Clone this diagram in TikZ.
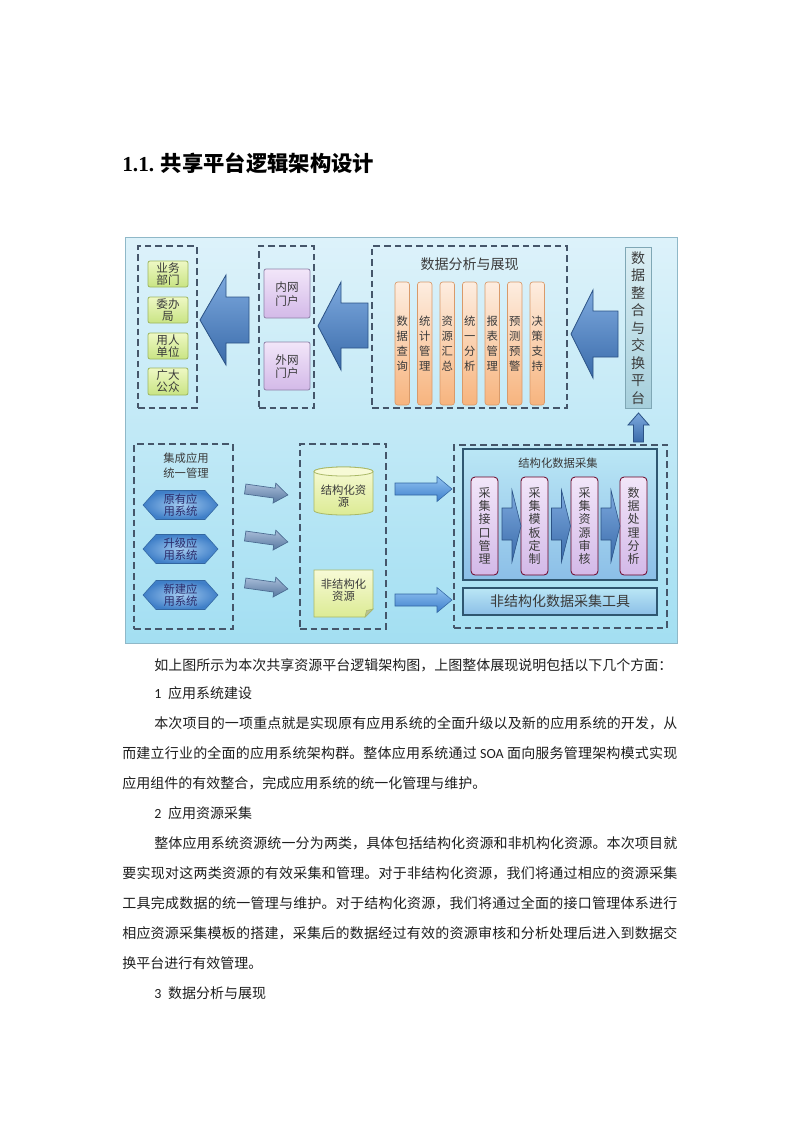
\documentclass[tikz,border=0pt]{standalone}
\usepackage{fontspec}
\setmainfont{Noto Sans CJK SC}
\newfontfamily\carlito{Carlito}
\newfontfamily\tserif{Liberation Serif}
\usetikzlibrary{fit}
\XeTeXlinebreaklocale "zh"
\XeTeXlinebreakskip=0pt plus 2pt
\definecolor{txt}{HTML}{3A3A3A}
\definecolor{bodytxt}{HTML}{1E1E1E}
\definecolor{dashc}{HTML}{45566A}
\definecolor{bgtop}{HTML}{DDF2FA}
\definecolor{bgbot}{HTML}{A3DFF2}
\definecolor{bgbd}{HTML}{8FB8C8}
\definecolor{grtop}{HTML}{EEF8C4}
\definecolor{grbot}{HTML}{C9E484}
\definecolor{grbd}{HTML}{9DB65E}
\definecolor{putop}{HTML}{F2E6F9}
\definecolor{pubot}{HTML}{D3B9E8}
\definecolor{pubd}{HTML}{8E82A8}
\definecolor{ortop}{HTML}{FDEDE0}
\definecolor{orbot}{HTML}{F7B47E}
\definecolor{orbd}{HTML}{D99A6A}
\definecolor{pltop}{HTML}{DCEFF4}
\definecolor{plbot}{HTML}{A6CFDC}
\definecolor{plbd}{HTML}{7FA7B5}
\definecolor{arrtop}{HTML}{7DA9DE}
\definecolor{arrbot}{HTML}{3A6BAA}
\definecolor{arrbd}{HTML}{2B5285}
\definecolor{ylt}{HTML}{F7FAD6}
\definecolor{ylb}{HTML}{DCEB94}
\definecolor{ylbd}{HTML}{A9B866}
\definecolor{sbd}{HTML}{2F5670}
\definecolor{hexin}{HTML}{A4CBF0}
\definecolor{hexout}{HTML}{3F7FC8}
\definecolor{grarrt}{HTML}{A9BDD9}
\definecolor{grarrb}{HTML}{55779F}
\definecolor{grarrbd}{HTML}{4A6A90}
\definecolor{rarrt}{HTML}{92C4F2}
\definecolor{rarrb}{HTML}{3D7ECB}
\newcommand{\jline}[1]{\parbox[t]{416.25pt}{\parfillskip=0pt\relax\noindent #1\par}}
% stacked lines: #1 name, #2 x, #3 y centre, #4 pitch, #5 number of lines, #6 font size, #7 colour, #8 list of lines
\newcommand{\stacklines}[8]{%
  \pgfmathsetmacro\sth{0.88*#6}%
  \pgfmathsetmacro\std{0.12*#6}%
  \foreach \s [count=\k] in {#8} {
    \node[inner sep=0pt, text=#7, font=\fontsize{#6}{#6}\selectfont, text height=\sth pt, text depth=\std pt] (#1\k) at (#2, {#3+(\k-(#5+1)/2)*#4}) {\s};
  }}
\begin{document}
\begin{tikzpicture}[x=0.75pt,y=-0.75pt,
  bgbox/.style={draw=bgbd, line width=0.6pt, top color=bgtop, bottom color=bgbot, inner sep=0pt},
  dashbox/.style={draw=dashc, line width=1.4pt, dash pattern=on 5pt off 3pt, inner sep=0pt},
  gbox/.style={draw=grbd, line width=0.6pt, top color=grtop, bottom color=grbot, rounded corners=1.5pt, inner sep=0pt},
  pbox/.style={draw=pubd, line width=0.6pt, top color=putop, bottom color=pubot, rounded corners=1.5pt, inner sep=0pt},
  obar/.style={draw=orbd, line width=0.5pt, top color=ortop, bottom color=orbot, rounded corners=2pt, inner sep=0pt},
  platbox/.style={draw=plbd, line width=0.6pt, top color=pltop, bottom color=plbot, inner sep=0pt},
  bigarrow/.style={draw=arrbd, line width=0.6pt, top color=arrtop, bottom color=arrbot},
  hexst/.style={draw=hexout!80!black, line width=0.4pt, inner color=hexin, outer color=hexout},
  grarrow/.style={draw=grarrbd, line width=0.5pt, top color=grarrt, bottom color=grarrb},
  rarrow/.style={draw=rarrb!80!black, line width=0.4pt, top color=rarrt, bottom color=rarrb},
  yshape/.style={draw=ylbd, line width=0.6pt, top color=ylt, bottom color=ylb},
  sbox/.style={draw=sbd, line width=1.2pt, top color=bgtop!40!bgbot, bottom color=bgbot!90!blue!95!black, inner sep=0pt},
  tbox/.style={draw=purple!55!black, line width=0.6pt, top color=putop, bottom color=pubot, rounded corners=3pt, inner sep=0pt},
  chev/.style={draw=arrbd, line width=0.4pt, top color=arrtop, bottom color=arrbot},
  bodyline/.style={anchor=base west, inner sep=0pt, text=bodytxt, font=\fontsize{10.5}{12}\selectfont}
]
\useasboundingbox (0,0) rectangle (800,1131);
\fill[white] (0,0) rectangle (800,1131);

% title
\node[anchor=base west, inner sep=0pt, font=\fontsize{16}{18}\selectfont\bfseries, text=black] (title) at (122,171) {{\tserif 1.1.} 共享平台逻辑架构设计};

% background
\node[bgbox, fit={(125,237) (677,643)}] (bg) {};

% dashed groups
\node[dashbox, fit={(138,246) (197,408)}] (g1) {};
\node[dashbox, fit={(259,246) (314,408)}] (g2) {};
\node[dashbox, fit={(372,246) (567,408)}] (g3) {};
\node[dashbox, fit={(134,444) (233,629)}] (g4) {};
\node[dashbox, fit={(300,444) (386,629)}] (g5) {};
\node[dashbox, fit={(454,445) (667,628)}] (g6) {};

% users
\node[gbox, fit={(148,261) (188,287)}] (u1) {};
\node[gbox, fit={(148,297) (188,323)}] (u2) {};
\node[gbox, fit={(148,333) (188,359)}] (u3) {};
\node[gbox, fit={(148,368) (188,395)}] (u4) {};
\stacklines{u1t}{168}{274}{12}{2}{8.7}{txt}{业务,部门}
\stacklines{u2t}{168}{310}{12}{2}{8.7}{txt}{委办,局}
\stacklines{u3t}{168}{346}{12}{2}{8.7}{txt}{用人,单位}
\stacklines{u4t}{168}{381.5}{12}{2}{8.7}{txt}{广大,公众}

% portals
\node[pbox, fit={(264,269) (310,318)}] (p1) {};
\node[pbox, fit={(264,342) (310,390)}] (p2) {};
\stacklines{p1t}{287}{294}{13.5}{2}{8.7}{txt}{内网,门户}
\stacklines{p2t}{287}{366.5}{13.5}{2}{8.7}{txt}{外网,门户}

% analysis group
\node[inner sep=0pt, font=\fontsize{10.5}{12}\selectfont, text=txt] (g3t) at (469.5,264) {数据分析与展现};
\foreach \t [count=\i from 0] in {数据查询, 统计管理, 资源汇总, 统一分析, 报表管理, 预测预警, 决策支持} {
  \pgfmathsetmacro\xl{395+22.5*\i}
  \pgfmathsetmacro\xr{\xl+14.5}
  \pgfmathsetmacro\xc{\xl+7.25}
  \node[obar, fit={(\xl,282) (\xr,405)}] (bar\i) {};
}
\stacklines{b0t}{402.25}{343.5}{15}{4}{8.5}{txt}{数,据,查,询}
\stacklines{b1t}{424.75}{343.5}{15}{4}{8.5}{txt}{统,计,管,理}
\stacklines{b2t}{447.25}{343.5}{15}{4}{8.5}{txt}{资,源,汇,总}
\stacklines{b3t}{469.75}{343.5}{15}{4}{8.5}{txt}{统,一,分,析}
\stacklines{b4t}{492.25}{343.5}{15}{4}{8.5}{txt}{报,表,管,理}
\stacklines{b5t}{514.75}{343.5}{15}{4}{8.5}{txt}{预,测,预,警}
\stacklines{b6t}{537.25}{343.5}{15}{4}{8.5}{txt}{决,策,支,持}

% platform
\node[platbox, fit={(625,247) (651,408)}] (plat) {};
\stacklines{pl}{638}{328}{17.5}{9}{10.5}{txt}{数,据,整,合,与,交,换,平,台}

% big arrows
\path[bigarrow] (200,320) -- (226,275) -- (226,297) -- (249,297) -- (249,343) -- (226,343) -- (226,365) -- cycle;
\path[bigarrow] (318,326) -- (341,282) -- (341,303) -- (368,303) -- (368,348) -- (341,348) -- (341,370) -- cycle;
\path[bigarrow] (571,334) -- (593,290) -- (593,311) -- (618,311) -- (618,357) -- (593,357) -- (593,378) -- cycle;

% up arrow
\path[bigarrow] (638.5,413) -- (649,425) -- (643.5,425) -- (643.5,442) -- (633.5,442) -- (633.5,425) -- (628,425) -- cycle;

% integration group
\stacklines{g4t}{186}{465.5}{15}{2}{8.5}{txt}{集成应用,统一管理}
\foreach \cy/\n in {505/h1, 549/h2, 595/h3} {
  \path[hexst] (143,\cy) -- (156,{\cy-14.5}) -- (205,{\cy-14.5}) -- (218,\cy) -- (205,{\cy+14.5}) -- (156,{\cy+14.5}) -- cycle;
}
\stacklines{h1t}{180.5}{505}{12.3}{2}{8.5}{txt!75!blue}{原有应,用系统}
\stacklines{h2t}{180.5}{549}{12.3}{2}{8.5}{txt!75!blue}{升级应,用系统}
\stacklines{h3t}{180.5}{595}{12.3}{2}{8.5}{txt!75!blue}{新建应,用系统}

% slanted grey arrows
\foreach \cy in {492,539,586} {
  \begin{scope}[shift={(266.5,\cy)}, rotate=-8]
    \path[grarrow] (-21.5,-5) -- (8,-5) -- (8,-10) -- (21.5,0) -- (8,10) -- (8,5) -- (-21.5,5) -- cycle;
  \end{scope}
}

% structured resource (cylinder)
\path[yshape] (314,471.5) -- (314,510.5) arc[start angle=180, end angle=360, x radius=22.125pt, y radius=3.375pt] -- (373,471.5) arc[start angle=0, end angle=180, x radius=22.125pt, y radius=3.375pt] -- cycle;
\draw[ylbd, line width=0.6pt, fill=ylt] (343.5,471.5) ellipse[x radius=22.125pt, y radius=3.375pt];
\stacklines{sres}{343.5}{496}{12}{2}{8.5}{txt}{结构化资,源}

% unstructured resource (note)
\path[yshape] (314,570) -- (373,570) -- (373,609) -- (365,617) -- (314,617) -- cycle;
\path[fill=ylb!70!black!70, draw=ylbd, line width=0.4pt] (365,617) -- (366.5,610.5) -- (373,609) -- cycle;
\stacklines{ures}{343.5}{590}{12}{2}{8.5}{txt}{非结构化,资源}

% blue right arrows
\foreach \cy in {489,600} {
  \path[rarrow] (395,{\cy-6}) -- (437,{\cy-6}) -- (437,{\cy-12.5}) -- (452,\cy) -- (437,{\cy+12.5}) -- (437,{\cy+6}) -- (395,{\cy+6}) -- cycle;
}

% structured collection
\node[sbox, fit={(463,449) (657,580)}] (sb) {};
\node[inner sep=0pt, text=txt, font=\fontsize{8.5}{10}\selectfont] (sbt) at (558,463) {结构化数据采集};
\foreach \xl [count=\i] in {471,521,571,620} {
  \pgfmathsetmacro\xr{\xl+27}
  \node[tbox, fit={(\xl,477) (\xr,575)}] (c\i) {};
}
\stacklines{c1t}{484.5}{526}{13.3}{6}{9}{txt}{采,集,接,口,管,理}
\stacklines{c2t}{534.5}{526}{13.3}{6}{9}{txt}{采,集,模,板,定,制}
\stacklines{c3t}{584.5}{526}{13.3}{6}{9}{txt}{采,集,资,源,审,核}
\stacklines{c4t}{633.5}{526}{13.3}{6}{9}{txt}{数,据,处,理,分,析}
\foreach \dx in {0,49.5,99} {
  \path[chev] ({502+\dx},508) -- ({512+\dx},508) -- ({512+\dx},490) -- ({521+\dx},526) -- ({512+\dx},562) -- ({512+\dx},540) -- ({502+\dx},540) -- cycle;
}

% unstructured tool
\node[sbox, fit={(463,588) (657,615)}] (tool) {};
\node[inner sep=0pt, text=txt, font=\fontsize{10.5}{12}\selectfont] (toolt) at (560,601.5) {非结构化数据采集工具};

% body text
\node[bodyline] (l1) at (154,670) {如上图所示为本次共享资源平台逻辑架构图，上图整体展现说明包括以下几个方面：};
\node[bodyline] (l2) at (154,698) {{\carlito 1}\hspace{5pt}应用系统建设};
\node[bodyline] (l3) at (122,728) {\jline{\hspace*{24pt}本次项目的一项重点就是实现原有应用系统的全面升级以及新的应用系统的开发，从}};
\node[bodyline] (l4) at (122,758) {\jline{而建立行业的全面的应用系统架构群。整体应用系统通过 {\carlito SOA} 面向服务管理架构模式实现}};
\node[bodyline] (l5) at (122,788) {应用组件的有效整合，完成应用系统的统一化管理与维护。};
\node[bodyline] (l6) at (154,818) {{\carlito 2}\hspace{5pt}应用资源采集};
\node[bodyline] (l7) at (122,848) {\jline{\hspace*{24pt}整体应用系统资源统一分为两类，具体包括结构化资源和非机构化资源。本次项目就}};
\node[bodyline] (l8) at (122,878) {\jline{要实现对这两类资源的有效采集和管理。对于非结构化资源，我们将通过相应的资源采集}};
\node[bodyline] (l9) at (122,908) {\jline{工具完成数据的统一管理与维护。对于结构化资源，我们将通过全面的接口管理体系进行}};
\node[bodyline] (l10) at (122,938) {\jline{相应资源采集模板的搭建，采集后的数据经过有效的资源审核和分析处理后进入到数据交}};
\node[bodyline] (l11) at (122,968) {换平台进行有效管理。};
\node[bodyline] (l12) at (154,998) {{\carlito 3}\hspace{5pt}数据分析与展现};
\end{tikzpicture}
\end{document}
